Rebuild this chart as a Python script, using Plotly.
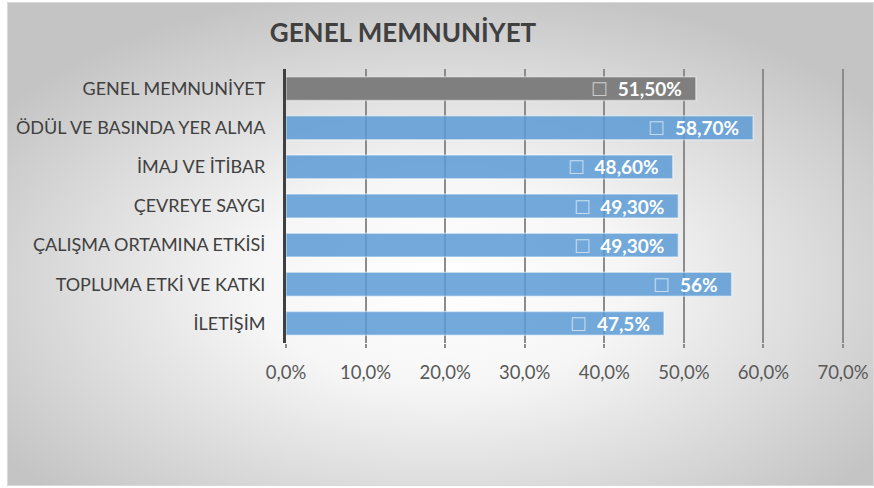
import base64
import plotly.graph_objects as go

categories = ["GENEL MEMNUNİYET", "ÖDÜL VE BASINDA YER ALMA", "İMAJ VE İTİBAR",
              "ÇEVREYE SAYGI", "ÇALIŞMA ORTAMINA ETKİSİ", "TOPLUMA ETKİ VE KATKI", "İLETİŞİM"]
values = [0.515, 0.587, 0.486, 0.493, 0.493, 0.56, 0.475]
value_labels = ["51,50%", "58,70%", "48,60%", "49,30%", "49,30%", "56%", "47,5%"]
bar_colors = ["#7f7f7f"] + ["rgba(91,155,213,0.85)"] * 6
title_text = "GENEL MEMNUNİYET"

W, H = 874, 488
XMAX = 0.705
ML, MT, MB = 286, 69, 145
pw = round(557 * XMAX / 0.7)
MR = W - ML - pw
ph = H - MT - MB

font_family = "Lato, 'Open Sans', sans-serif"

svg = """<svg xmlns='http://www.w3.org/2000/svg' width='867' height='484' viewBox='0 0 867 484'>
<defs><radialGradient id='g' cx='0.5' cy='0.58' r='0.62' gradientUnits='objectBoundingBox'>
<stop offset='0' stop-color='#ffffff'/><stop offset='0.35' stop-color='#f6f6f6'/>
<stop offset='1' stop-color='#c4c4c4'/></radialGradient></defs>
<rect x='0' y='0' width='867' height='484' fill='url(#g)'/>
<rect x='0.5' y='0.5' width='866' height='483' fill='none' stroke='#d9d9d9' stroke-width='1'/>
</svg>"""
src = "data:image/svg+xml;base64," + base64.b64encode(svg.encode()).decode()

texts = ['<span style="color:rgba(255,255,255,0.6);font-weight:normal">☐</span>\u2002' + t +
         '<span style="color:rgba(0,0,0,0)">0</span>' for t in value_labels]

fig = go.Figure(go.Bar(
    x=values, y=categories, orientation="h",
    marker=dict(color=bar_colors, line=dict(color="rgba(255,255,255,0.45)", width=1.5)),
    text=texts, textposition="inside", insidetextanchor="end", constraintext="none",
    textfont=dict(color="white", size=19, family=font_family, weight="bold"),
    hoverinfo="skip",
))

fig.update_layout(
    width=W, height=H,
    margin=dict(l=ML, r=MR, t=MT, b=MB, autoexpand=False),
    paper_bgcolor="white", plot_bgcolor="rgba(0,0,0,0)",
    separators=",.",
    bargap=0.39,
    showlegend=False,
    uniformtext=dict(mode=False),
    title=dict(text="<b>" + title_text + "</b>", x=403 / W, xref="container", xanchor="center",
               y=1 - 33 / H, yref="container", yanchor="middle",
               font=dict(size=26, color="#404040", family=font_family)),
    font=dict(family=font_family),
    images=[dict(source=src, xref="paper", yref="paper",
                 x=(7 - ML) / pw, y=(MT - 2) / ph + 1, sizex=(W - 7) / pw, sizey=484 / ph,
                 xanchor="left", yanchor="top", sizing="stretch", layer="below")],
)
fig.update_xaxes(range=[0, XMAX], dtick=0.1, tick0=0, tickformat=".1%",
                 showgrid=True, gridcolor="#8c8c8c", gridwidth=1.5, zeroline=False,
                 ticks="outside", ticklen=4, tickcolor="#8c8c8c", tickwidth=1.5,
                 ticklabelstandoff=9,
                 tickfont=dict(size=18.5, color="#595959", family=font_family))
fig.update_yaxes(autorange="reversed", showline=True, linecolor="#404040", linewidth=3,
                 showgrid=False, ticks="", ticklabelstandoff=14,
                 tickfont=dict(size=18, color="#404040", family=font_family))

fig.write_html("out.html", config={"displayModeBar": False},
               post_script="document.body.style.margin='0';document.body.style.overflow='hidden';")
